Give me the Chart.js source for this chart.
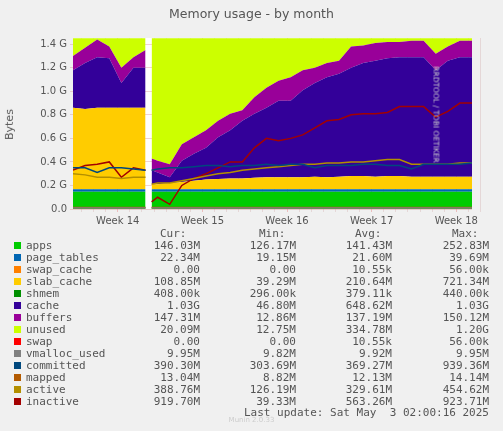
<!DOCTYPE html>
<html><head><meta charset="utf-8">
<script src="https://cdn.jsdelivr.net/npm/chart.js@4"></script>
<style>
body{margin:0;background:#f0f0f0;width:503px;height:431px;overflow:hidden;position:relative;font-family:"DejaVu Sans Mono",monospace;color:#555}
#wrap{position:absolute;left:0;top:0;width:503px;height:230px}
.t{position:absolute;white-space:pre;font-size:11px}
</style></head><body>
<div id="wrap"><canvas id="c" width="503" height="230"></canvas></div>
<div class="t" style="left:0;width:503px;top:6px;text-align:center;font-family:'DejaVu Sans';font-size:12.5px;color:#555">Memory usage - by month</div>
<div class="t" style="left:-6px;top:118px;transform:rotate(-90deg);font-family:'DejaVu Sans';font-size:11px">Bytes</div>
<div class="t" style="left:436px;top:110px;transform:rotate(90deg);font-family:'DejaVu Sans';font-size:7.5px;color:#ccc;width:200px;margin-left:-100px;text-align:center">RRDTOOL / TOBI OETIKER</div>
<div id="leg"></div>
<script>
const days=[0,1,2,3,4,5,6,6.3,6.5,7,8,9,10,11,12,13,14,15,16,17,18,19,20,21,22,23,24,25,26,27,28,29,30,31,32,33];
const apps=[.146,.146,.146,.146,.146,.146,.146,null,.146,.146,.146,.146,.146,.146,.146,.146,.146,.146,.146,.146,.146,.146,.146,.146,.146,.146,.146,.146,.146,.146,.146,.146,.146,.146,.146,.146];
const pageTables=[.022,.022,.022,.022,.022,.022,.022,null,.022,.022,.022,.022,.022,.022,.022,.022,.022,.022,.022,.022,.022,.022,.022,.022,.022,.022,.022,.022,.022,.022,.022,.022,.022,.022,.022,.022];
const slabTop=[.86,.85,.86,.86,.86,.86,.86,null,.21,.21,.22,.23,.24,.25,.255,.26,.26,.265,.27,.27,.27,.27,.275,.27,.275,.28,.28,.275,.28,.28,.275,.275,.275,.275,.275,.275];
const cacheTop=[1.18,1.24,1.29,1.28,1.07,1.2,1.2,null,.33,.31,.27,.41,.47,.52,.61,.67,.75,.81,.86,.92,.92,1.01,1.07,1.12,1.15,1.2,1.24,1.26,1.28,1.29,1.29,1.29,1.18,1.26,1.29,1.29];
const buffersTop=[1.3,1.37,1.44,1.38,1.2,1.29,1.35,null,.43,.41,.38,.55,.61,.67,.75,.81,.84,.95,1.03,1.09,1.12,1.18,1.2,1.24,1.26,1.38,1.39,1.41,1.42,1.42,1.43,1.43,1.32,1.38,1.43,1.43];
const totalMem=[1.45,1.45,1.45,1.45,1.45,1.45,1.45,null,1.45,1.45,1.45,1.45,1.45,1.45,1.45,1.45,1.45,1.45,1.45,1.45,1.45,1.45,1.45,1.45,1.45,1.45,1.45,1.45,1.45,1.45,1.45,1.45,1.45,1.45,1.45,1.45];
const committed=[.35,.35,.31,.35,.35,.34,.33,null,.33,.34,.35,.35,.36,.37,.37,.36,.37,.37,.38,.37,.38,.38,.35,.37,.37,.37,.38,.38,.37,.37,.34,.38,.38,.38,.38,.39];
const active=[.3,.29,.27,.27,.26,.27,.27,null,.21,.22,.22,.24,.26,.28,.30,.31,.33,.34,.35,.36,.37,.38,.38,.39,.39,.40,.40,.41,.42,.42,.38,.38,.38,.38,.39,.39];
const inactive=[.33,.37,.38,.4,.27,.35,.33,null,.06,.1,.04,.2,.26,.3,.35,.4,.4,.52,.6,.58,.6,.63,.69,.75,.76,.8,.81,.81,.82,.87,.87,.87,.78,.83,.9,.9];
const mapped=days.map((d,i)=>apps[i]===null?null:.012);
const vmalloc=days.map((d,i)=>apps[i]===null?null:.0095);
const weekLabels=["Week 14","Week 15","Week 16","Week 17","Week 18"];
const weekDays=[3.7,10.7,17.7,24.7,31.7];
const yTicks=[0,.2,.4,.6,.8,1.0,1.2,1.4];

const names=["apps","page_tables","swap_cache","slab_cache","shmem","cache","buffers","unused","swap","vmalloc_used","committed","mapped","active","inactive"];
const colors=["#00cc00","#0066b3","#ff8000","#ffcc00","#008f00","#330099","#990099","#ccff00","#ff0000","#808080","#00487d","#b35a00","#b38f00","#a30000"];
const cur=["146.03M","22.34M","0.00","108.85M","408.00k","1.03G","147.31M","20.09M","0.00","9.95M","390.30M","13.04M","388.76M","919.70M"];
const mins=["126.17M","19.15M","0.00","39.29M","296.00k","46.80M","12.86M","12.75M","0.00","9.82M","303.69M","8.82M","126.19M","39.33M"];
const avgs=["141.43M","21.60M","10.55k","210.64M","379.11k","648.62M","137.19M","334.78M","10.55k","9.92M","369.27M","12.13M","329.61M","563.26M"];
const maxs=["252.83M","39.69M","56.00k","721.34M","440.00k","1.03G","150.12M","1.20G","56.00k","9.95M","939.36M","14.14M","454.62M","923.71M"];

const sub=(a,b)=>a.map((v,i)=>v===null?null:+(v-(b[i]||0)).toFixed(4));
const base=days.map((d,i)=>apps[i]===null?null:apps[i]+pageTables[i]);
const slab=sub(slabTop,base), cache=sub(cacheTop,slabTop), buffers=sub(buffersTop,cacheTop), unused=sub(totalMem,buffersTop);
const zero=days.map((d,i)=>apps[i]===null?null:0);
const pts=a=>a.map((v,i)=>({x:days[i],y:v}));
const area=(lab,arr,col,first)=>({label:lab,data:pts(arr),backgroundColor:col,borderColor:col,borderWidth:0,fill:first?'origin':'-1',pointRadius:0,stack:'s',order:10,tension:0,spanGaps:false,stepped:false});
const line=(lab,arr,col)=>({label:lab,data:pts(arr),borderColor:col,borderWidth:1.5,fill:false,pointRadius:0,stack:lab,order:0,spanGaps:false});
const ds=[area('apps',apps,colors[0],true),area('page_tables',pageTables,colors[1]),area('swap_cache',zero,colors[2]),area('slab_cache',slab,colors[3]),area('cache',cache,colors[5]),area('buffers',buffers,colors[6]),area('unused',unused,colors[7]),
line('vmalloc_used',vmalloc,colors[9]),line('mapped',mapped,colors[11]),line('committed',committed,colors[10]),line('active',active,colors[12]),line('inactive',inactive,colors[13])];
const bg={id:'bg',beforeDraw(c){const a=c.chartArea,x=c.ctx;x.save();x.fillStyle='#fff';x.fillRect(a.left,a.top,a.right-a.left,a.bottom-a.top);x.restore();}};
new Chart(document.getElementById('c'),{type:'line',data:{datasets:ds},plugins:[bg],
options:{responsive:false,animation:false,events:[],layout:{padding:{top:38,right:31,left:0,bottom:0}},
plugins:{legend:{display:false},tooltip:{enabled:false}},
scales:{x:{type:'linear',min:0,max:33,afterBuildTicks(s){s.ticks=[];for(let d=0;d<=33;d++)s.ticks.push({value:d+0.7});},
ticks:{autoSkip:false,maxRotation:0,color:'#555',font:{family:'DejaVu Sans',size:10},callback(v){const k=weekDays.findIndex(w=>Math.abs(w-v)<0.01);return k<0?'':weekLabels[k];}},
grid:{color:c=>weekDays.some(w=>Math.abs(w-c.tick.value)<0.01)?'rgba(230,120,120,0.6)':'rgba(210,170,170,0.5)',lineWidth:0.7,tickLength:3,borderDash:[1,2]},border:{display:false}},
y:{stacked:true,min:0,max:1.453,afterFit(s){s.width=73;},afterBuildTicks(s){s.ticks=yTicks.map(v=>({value:v}));},
ticks:{color:'#555',font:{family:'DejaVu Sans',size:10},callback:v=>v===0?'0.0':v.toFixed(1)+' G'},
grid:{color:'rgba(220,150,150,0.6)',lineWidth:0.7,borderDash:[1,2],tickLength:3},border:{display:false}}}}});

let h='<div class="t" style="left:160px;top:227px">Cur:</div><div class="t" style="left:259px;top:227px">Min:</div><div class="t" style="left:355px;top:227px">Avg:</div><div class="t" style="left:452px;top:227px">Max:</div>';
names.forEach((n,i)=>{const y=239+i*12;
h+=`<div style="position:absolute;left:14px;top:${y+3}px;width:7px;height:7px;background:${colors[i]}"></div>`;
h+=`<div class="t" style="left:26px;top:${y}px">${n}</div>`;
[[cur,200],[mins,296],[avgs,392],[maxs,489]].forEach(([a,r])=>{h+=`<div class="t" style="right:${503-r}px;top:${y}px">${a[i]}</div>`;});});
h+='<div class="t" style="right:14px;top:406px">Last update: Sat May  3 02:00:16 2025</div>';
h+='<div class="t" style="left:0;width:503px;text-align:center;top:416px;font-size:7px;color:#ccc;font-family:\'DejaVu Sans\'">Munin 2.0.33</div>';
document.getElementById('leg').innerHTML=h;
</script></body></html>
